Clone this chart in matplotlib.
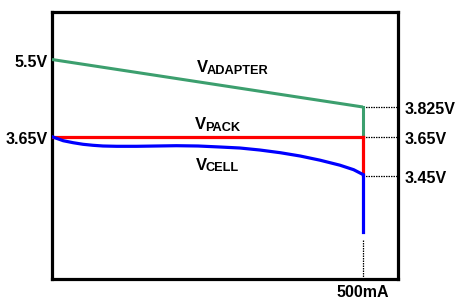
import matplotlib.pyplot as plt

# schematic chart: y values are drawing heights, labelled with voltages
current_ma = [0, 500]
adapter_y = [219.5, 172.0]
pack_y = [142.5, 142.5]

cell_x = [0, 18, 34, 50, 66, 82, 104, 136, 168, 200, 235, 270, 302, 334, 367, 399, 431, 463, 485, 500]
cell_y = [142.3, 138.3, 136.3, 134.7, 133.7, 133.0, 132.7, 132.7, 133.0, 133.3, 133.0, 132.0,
          131.0, 129.0, 126.3, 123.0, 118.8, 113.8, 109.3, 104.5]
cell_end_y = 47.0

left_labels = ['5.5V', '3.65V']
left_levels = [219.5, 142.5]
right_labels = ['3.825V', '3.65V', '3.45V']
right_levels = [172.0, 142.5, 103.0]
x_label = '500mA'

plt.rcParams['font.family'] = ['Liberation Sans', 'DejaVu Sans']
plt.rcParams['font.weight'] = 'bold'

fig = plt.figure(figsize=(4.59, 3.01), dpi=100)
ax = fig.add_axes([0.1133, 0.0731, 0.7547, 0.8870])
ax.set_xlim(0, 557)
ax.set_ylim(0, 267)
ax.set_xticks([])
ax.set_yticks([])
for s in ax.spines.values():
    s.set_linewidth(2.3)
    s.set_color('black')

green = '#3c9f6e'
x_end = current_ma[-1]

# dotted guide lines
for lv in right_levels:
    ax.plot([x_end, 557], [lv, lv], color='black', lw=0.9, ls=(0, (1.2, 0.8)), zorder=1)
ax.plot([x_end, x_end], [0, 39], color='black', lw=0.9, ls=(0, (1.2, 0.8)), zorder=1)

# V_ADAPTER
ax.plot(current_ma, adapter_y, color=green, lw=2.2, solid_capstyle='butt', zorder=3)
ax.plot([x_end, x_end], [adapter_y[-1], pack_y[-1]], color=green, lw=2.2, zorder=3)
# V_PACK
ax.plot(current_ma, pack_y, color='#ff0000', lw=2.3, zorder=4)
ax.plot([x_end, x_end], [pack_y[-1], cell_y[-1]], color='#ff0000', lw=2.3, zorder=4)
# V_CELL
ax.plot(cell_x, cell_y, color='#0000ff', lw=2.3, zorder=5, solid_joinstyle='round')
ax.plot([x_end, x_end], [cell_y[-1], cell_end_y], color='#0000ff', lw=2.3, zorder=5)

# axis labels
for lab, lv in zip(left_labels, left_levels):
    ax.annotate(lab, xy=(0, lv), xycoords=('axes fraction', 'data'),
                xytext=(-3, -1.8), textcoords='offset points',
                ha='right', va='center', fontsize=11.5, fontweight='bold')
for lab, lv in zip(right_labels, right_levels):
    ax.annotate(lab, xy=(1, lv), xycoords=('axes fraction', 'data'),
                xytext=(4.7, -1.8), textcoords='offset points',
                ha='left', va='center', fontsize=11.5, fontweight='bold')
ax.annotate(x_label, xy=(x_end, 0), xycoords=('data', 'axes fraction'),
            xytext=(0, -9.7), textcoords='offset points',
            ha='center', va='center', fontsize=11.5, fontweight='bold',
            annotation_clip=False)

# curve names
names = [('ADAPTER', 232.6, 207.3, 249.5, 205.3),
         ('PACK', 229.9, 150.5, 247.0, 148.3),
         ('CELL', 230.9, 109.5, 247.5, 108.0)]
for sub, vx, vy, sx, sy in names:
    ax.text(vx, vy, 'V', fontsize=12, fontweight='bold', va='baseline', ha='left')
    ax.text(sx, sy, sub, fontsize=9.2, fontweight='bold', va='baseline', ha='left')

fig.savefig('out.png', dpi=100)
